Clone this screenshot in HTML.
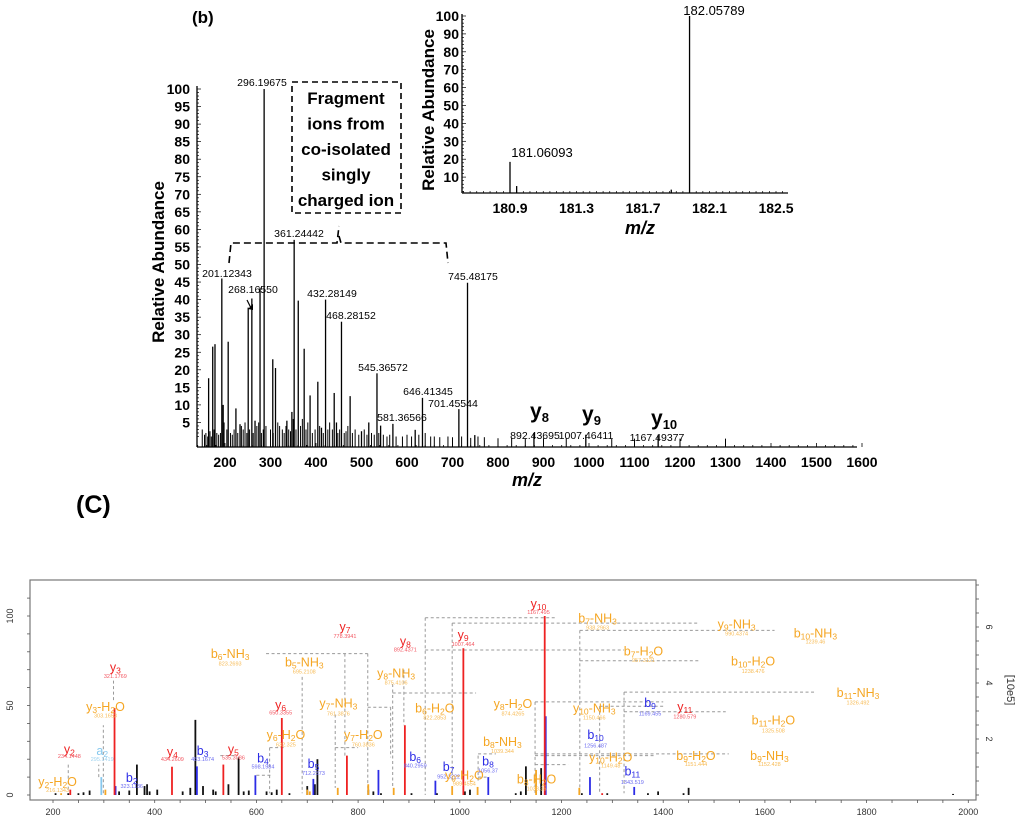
<!DOCTYPE html>
<html><head><meta charset="utf-8">
<style>
html,body{margin:0;padding:0;background:#fff;}
svg{display:block;font-family:"Liberation Sans",Arial,sans-serif;}
</style></head>
<body>
<svg id="fig" width="1024" height="824" viewBox="0 0 1024 824" xmlns="http://www.w3.org/2000/svg">
<g id="top"></g>
<g id="inset"></g>
<g id="bot"></g>
</svg>
<script>
// ---------- Panel (b) data ----------
const mainMz=[164,173,178,193,196,207,224,233,251,259,266,277,286,305,311,336,347,352,361,374,387,404,412,421,440,445,456,475,500,516,534,542,569,618,634,714,733,749,879,993,1152];
const mainAb=[17.6,26.6,27.3,46,10,28,9,4.5,37.7,40.3,5.5,43.4,100,23,20.5,5.5,8,57,39.7,26,12.7,16.6,3.5,40,13.4,5,33.7,12.5,2.5,5,19,4.1,4.6,2.9,12,8.8,44.8,1.4,2,1.5,1.5];
const noiseMz=[150,155,158,162,167,170,176,182,186,190,198,204,212,216,220,228,236,240,244,248,254,262,270,274,280,284,290,300,306,316,320,326,330,334,340,344,350,356,366,370,378,382,392,398,408,416,426,430,436,448,452,462,466,470,480,486,494,500,506,512,522,528,538,548,556,562,576,590,600,610,626,640,652,660,672,690,700,720,740,756,770,800,830,860,900,950,1050,1100,1200,1300];
const noiseAb=[3,1.5,2,1,2.5,1,3,2,1.5,2,5,3,2,1.5,3,2,4,3,5,2,3,2,4,5,2,3,4,3,2,5,4,3,2,4,3,2.5,6,3,4,6,3,5,2,3,4,2,3,5,3,2,3,2,2.5,4,2,3,1.5,2,3,1.5,2,1.5,2,1.5,1,1.5,1,1,1.5,1,1.5,2,1,1,0.8,1,0.8,1,0.6,1,0.8,0.5,0.6,0.5,0.5,0.5,0.4,0.4,0.4,0.4];
const topXTicks=[200,300,400,500,600,700,800,900,1000,1100,1200,1300,1400,1500,1600];
const topYTicks=[5,10,15,20,25,30,35,40,45,50,55,60,65,70,75,80,85,90,95,100];
const topPeakLabels=["296.19675","361.24442","201.12343","268.16550","432.28149","468.28152","545.36572","646.41345","701.45544","581.36566","745.48175"];
// ---------- Inset data ----------
const insetMz=[180.9,180.94,181.87,181.98];
const insetAb=[18.5,5,3,100];
const insetXTicks=[180.9,181.3,181.7,182.1,182.5];
const insetYTicks=[10,20,30,40,50,60,70,80,90,100];
// ---------- Panel (C) data ----------
const blackMz=[205,230,250,260,272,330,350,365,380,385,390,405,455,470,480,495,515,520,545,565,575,585,620,630,640,665,700,715,720,820,830,845,905,955,1010,1020,1110,1120,1130,1160,1240,1290,1370,1390,1440,1450,1970];
const blackAb=[1,1,1,1.5,2.5,2,2.5,17,5,6,2,3,2,4,42,5,3,2,6,21,2,2.5,2,1.5,3,1,5,6,20,3,2,1,1,1,2,3,1,2,16,15,1,1,1,2,1,4,0.6];
const orangeMz=[216,303,700,705,760,820,870,985,1035,1150,1235];
const orangeAb=[1,3,3,2,4,6,4,5,4.5,14,4];
const lightMz=[295];
const lightAb=[10];
const blueMz=[323,483,598,712,840,952,1056,1169,1256,1343];
const blueAb=[5,16,11,9,14,8,10,44,10,4.5];
const redMz=[234,321,434,535,650,778,892,1007,1167,1280];
const redAb=[3,48.6,15.8,17,43,22,39,82,100,1];
const botXTicks=[200,400,600,800,1000,1200,1400,1600,1800,2000];
const botYTicks=[0,50,100];
const botRTicks=[2,4,6];

const NS="http://www.w3.org/2000/svg";
function mk(parent,tag,attrs,text){const e=document.createElementNS(NS,tag);for(const k in attrs)e.setAttribute(k,attrs[k]);if(text!==undefined)e.textContent=text;parent.appendChild(e);return e;}

// ===== Panel (b) =====
const T=document.getElementById('top');
const X1=m=>225+(m-200)*0.455;
const Y1=v=>440-3.51*v;
const BASE1=447;
let t=mk(T,'text',{x:192,y:23,'font-size':17,'font-weight':'bold'},'(b)');

let ax=mk(T,'line',{x1:197,y1:BASE1,x2:857,y2:BASE1,stroke:'#000','stroke-width':1.3});

ax=mk(T,'line',{x1:197,y1:BASE1,x2:197,y2:86,stroke:'#000','stroke-width':1.3});

for(let m=140;m<=1600;m+=20){mk(T,'line',{x1:X1(m),y1:BASE1,x2:X1(m),y2:BASE1-(m%100===0?4:2),stroke:'#000','stroke-width':0.8});}
for(let v=1;v<=100;v++){mk(T,'line',{x1:197,y1:Y1(v),x2:197+(v%5===0?4:2),y2:Y1(v),stroke:'#000','stroke-width':0.7});}
topXTicks.forEach(m=>{const e=mk(T,'text',{x:X1(m),y:467,'font-size':14,'font-weight':'bold','text-anchor':'middle'},String(m));
});
topYTicks.forEach(v=>{const e=mk(T,'text',{x:190,y:Y1(v)+5,'font-size':14,'font-weight':'bold','text-anchor':'end'},String(v));
});
t=mk(T,'text',{x:0,y:0,'font-size':17,'font-weight':'bold','text-anchor':'middle',transform:'translate(164,262) rotate(-90)'},'Relative Abundance');

t=mk(T,'text',{x:527,y:486,'font-size':18,'font-weight':'bold','font-style':'italic','text-anchor':'middle'},'m/z');

noiseMz.forEach((m,i)=>{const e=mk(T,'line',{x1:X1(m),y1:BASE1,x2:X1(m),y2:Y1(noiseAb[i]),stroke:'#000','stroke-width':1});
});
mainMz.forEach((m,i)=>{const e=mk(T,'line',{x1:X1(m),y1:BASE1,x2:X1(m),y2:Y1(mainAb[i]),stroke:'#000','stroke-width':1.3});
});
const tl=[[262,86],[299,237],[227,277],[253,293],[332,297],[351,319],[383,371],[428,395],[453,407],[402,421],[473,280]];
topPeakLabels.forEach((s,i)=>{const e=mk(T,'text',{x:tl[i][0],y:tl[i][1],'font-size':10.5,'text-anchor':'middle'},s);
});
mk(T,'line',{x1:247,y1:300,x2:251,y2:308,stroke:'#000','stroke-width':1.2});
mk(T,'path',{d:'M248,309 L253,310 L253,304 Z',fill:'#000'});
[['y','8',530,418,'892.43695',535,439],['y','9',582,421,'1007.46411',586,439],['y','10',651,425,'1167.49377',657,441]].forEach(a=>{
 const e=mk(T,'text',{x:a[2],y:a[3],'font-size':21,'font-weight':'bold'});
 
 mk(e,'tspan',{},a[0]);mk(e,'tspan',{dy:4,'font-size':13},a[1]);
 const n=mk(T,'text',{x:a[5],y:a[6],'font-size':10.5,'text-anchor':'middle'},a[4]);
 });
let bx=mk(T,'rect',{x:292,y:82,width:109,height:131,fill:'none',stroke:'#000','stroke-width':1.6,'stroke-dasharray':'6,4'});

['Fragment','ions from','co-isolated','singly','charged ion'].forEach((s,i)=>{const e=mk(T,'text',{x:346,y:104+i*25.5,'font-size':17,'font-weight':'bold','text-anchor':'middle'},s);
});
let br=mk(T,'path',{d:'M229,263 L231,243 L337,243 L339,226 M339,236 L341,243 L446,243 L448,263',fill:'none',stroke:'#000','stroke-width':1.6,'stroke-dasharray':'7,4'});


// ===== Inset =====
const I=document.getElementById('inset');
const X3=m=>510+(m-180.9)*166.25;
const Y3=v=>195-1.79*v;
ax=mk(I,'line',{x1:462,y1:193,x2:788,y2:193,stroke:'#000','stroke-width':1.3});

ax=mk(I,'line',{x1:462,y1:193,x2:462,y2:14,stroke:'#000','stroke-width':1.3});

for(let k=0;k<=48;k++){const m=180.62+k*0.04;mk(I,'line',{x1:X3(m),y1:193,x2:X3(m),y2:191,stroke:'#000','stroke-width':0.7});}
for(let v=2;v<=100;v+=2){mk(I,'line',{x1:462,y1:Y3(v),x2:v%10===0?466:464,y2:Y3(v),stroke:'#000','stroke-width':0.7});}
insetXTicks.forEach(m=>{const e=mk(I,'text',{x:X3(m),y:213,'font-size':14,'font-weight':'bold','text-anchor':'middle'},m.toFixed(1));
});
insetYTicks.forEach(v=>{const e=mk(I,'text',{x:459,y:Y3(v)+5,'font-size':14,'font-weight':'bold','text-anchor':'end'},String(v));
});
t=mk(I,'text',{x:0,y:0,'font-size':17,'font-weight':'bold','text-anchor':'middle',transform:'translate(434,110) rotate(-90)'},'Relative Abundance');

t=mk(I,'text',{x:640,y:234,'font-size':18,'font-weight':'bold','font-style':'italic','text-anchor':'middle'},'m/z');

insetMz.forEach((m,i)=>{const e=mk(I,'line',{x1:X3(m),y1:193,x2:X3(m),y2:Y3(insetAb[i]),stroke:'#000','stroke-width':1.3});
});
t=mk(I,'text',{x:542,y:157,'font-size':13,'text-anchor':'middle'},'181.06093');

t=mk(I,'text',{x:714,y:15,'font-size':13,'text-anchor':'middle'},'182.05789');


// ===== Panel (C) =====
const B=document.getElementById('bot');
const X2=m=>53+(m-200)*0.5085;
const Y2=v=>795-1.79*v;
t=mk(B,'text',{x:76,y:513,'font-size':25,'font-weight':'bold'},'(C)');

let fr=mk(B,'rect',{x:30,y:580,width:946,height:220,fill:'none',stroke:'#777','stroke-width':1.2});

for(let m=200;m<=2000;m+=50){mk(B,'line',{x1:X2(m),y1:800,x2:X2(m),y2:803,stroke:'#555','stroke-width':0.8});}
botXTicks.forEach(m=>{const e=mk(B,'text',{x:X2(m),y:815,'font-size':9,fill:'#333','text-anchor':'middle'},String(m));
});
for(let v=0;v<=110;v+=10){mk(B,'line',{x1:27,y1:Y2(v),x2:30,y2:Y2(v),stroke:'#555','stroke-width':0.8});}
botYTicks.forEach(v=>{const e=mk(B,'text',{x:0,y:0,'font-size':9,fill:'#333','text-anchor':'middle',transform:`translate(13,${Y2(v)}) rotate(-90)`},String(v));
});
for(let k=0;k<=15;k++){const y=795-k*14;mk(B,'line',{x1:976,y1:y,x2:979,y2:y,stroke:'#555','stroke-width':0.8});}
botRTicks.forEach(v=>{const e=mk(B,'text',{x:0,y:0,'font-size':9,fill:'#333','text-anchor':'middle',transform:`translate(986,${795-v*28}) rotate(90)`},String(v));
});
t=mk(B,'text',{x:0,y:0,'font-size':11,fill:'#333','text-anchor':'middle',transform:'translate(1007,690) rotate(90)'},'[10e5]');

const conns=[[319,53,319,65],[299,1,299,39],[230,3,230,17],[290,10,290,17],[619,79,819,79],[819,79,819,2],[690,66,690,1],[774,79,774,22],[755,45,755,4],[819,49,864,49],[864,49,864,21],[868,62,868,4],[868,57,1032,57],[890,70,890,39],[932,99,1187,99],[932,99,932,0],[985,96,1471,96],[985,96,985,8],[1236,92,1619,92],[1236,92,1236,1],[932,81,1323,81],[1236,75,1471,75],[1323,57.5,1697,57.5],[1323,57.5,1323,1],[1323,46.5,1523,46.5],[1148,52,1400,52],[1148,52,1148,0],[1275,49.6,1400,49.6],[1275,49.6,1275,1],[1148,23,1529,23],[1148,22,1381,22],[1036,22,1036,8],[1036,23,1071,23],[755,26.5,800,26.5],[626,26.5,626,1],[626,26.5,658,26.5],[529,22,561,22],[600,11,632,11],[1148,17,1213,17],[1036,10,1058,10]];
conns.forEach(c=>{const e=mk(B,'line',{x1:X2(c[0]),y1:Y2(c[1]),x2:X2(c[2]),y2:Y2(c[3]),stroke:'#999','stroke-width':1,'stroke-dasharray':'3,2.5'});
});
function bars(mz,ab,col,name){mz.forEach((m,i)=>{const e=mk(B,'line',{x1:X2(m),y1:795,x2:X2(m),y2:Y2(ab[i]),stroke:col,'stroke-width':1.8});
});}
bars(blackMz,blackAb,'#111','unassigned-peak');
bars(orangeMz,orangeAb,'#f5a623','neutral-loss-peak');
bars(lightMz,lightAb,'#86c8ee','a-ion-peak');
bars(blueMz,blueAb,'#2c2ce6','b-ion-peak');
bars(redMz,redAb,'#ee2222','y-ion-peak');
const LX=zx=>53+(zx-85)*0.6561, LY=zy=>795-(685-zy)*0.3266;
const C={r:['#ee2222','#f25560'],b:['#2c2ce6','#6a6af0'],o:['#f5a623','#f7bb55'],l:['#86c8ee','#9fd3f0']};
const labs=[['y_10','r',825,100,'1167.495',125],['b_7-NH_3','o',915,145,'938.2963',172],['y_9-NH_3','o',1127,163,'990.4374',190],['b_10-NH_3','o',1247,190,'1239.46',215],
['y_7','r',530,170,'778.3941',198],['y_8','r',622,215,'892.4371',240],['y_9','r',710,195,'1007.464',222],['b_7-H_2O','o',985,245,'957.3121',272],
['b_6-NH_3','o',355,253,'823.2693',282],['b_5-NH_3','o',468,280,'695.2108',307],['b_10-H_2O','o',1152,277,'1238.476',305],['y_3','r',180,295,'321.1769',320],
['y_8-NH_3','o',608,313,'875.4106',340],['b_11-NH_3','o',1312,373,'1326.492',402],['y_8-H_2O','o',786,407,'874.4265',436],['y_10-NH_3','o',910,420,'1150.466',448],
['b_9','b',995,403,'1169.455',435],['y_11','r',1048,415,'1280.579',445],['y_3-H_2O','o',165,415,'303.1653',442],['y_7-NH_3','o',520,405,'761.3876',435],
['y_6','r',432,410,'650.3355',433],['b_6-H_2O','o',667,420,'822.2853',448],['b_11-H_2O','o',1183,457,'1325.508',488],['b_10','b',912,502,'1256.487',533],
['y_6-H_2O','o',440,502,'632.325',530],['y_7-H_2O','o',558,502,'760.3836',530],['b_8-NH_3','o',770,523,'1039.344',550],['y_2','r',110,545,'234.1448',565],
['a_2','l',160,550,'295.1419',575],['y_4','r',267,553,'434.2609',575],['b_3','b',313,550,'483.1674',575],['y_5','r',360,545,'535.3086',570],
['b_9-H_2O','o',1065,565,'1151.444',590],['b_9-NH_3','o',1177,565,'1152.428',590],['b_4','b',405,573,'598.1984',598],['b_5','b',482,590,'712.2373',618],
['b_6','b',637,568,'840.2959',595],['b_7','b',688,600,'952.3222',628],['y_9-H_2O','o',712,625,'989.4554',650],['b_8','b',748,583,'1056.37',610],
['y_10-H_2O','o',935,570,'1149.48',595],['b_11','b',968,613,'1343.519',645],['b_8-H_2O','o',822,637,'1038.36',665],['b_2','b',205,633,'323.1186',658],['y_2-H_2O','o',92,645,'216.1343',670]];
labs.forEach(a=>{
 const col=C[a[1]];
 const e=mk(B,'text',{x:LX(a[2]),y:LY(a[3])+4,'font-size':12.5,fill:col[0],'text-anchor':'middle'});
 
 const parts=a[0].split(/(_\d+)/);let shifted=false;
 parts.forEach(p=>{if(!p)return;
  if(p[0]==='_'){mk(e,'tspan',{dy:2,'font-size':8.5},p.slice(1));shifted=true;}
  else{mk(e,'tspan',shifted?{dy:-2}:{},p);shifted=false;}});
 const n=mk(B,'text',{x:LX(a[2]),y:LY(a[5])+2,'font-size':5.5,fill:col[1],'text-anchor':'middle'},a[4]);
 
});
</script>
</body></html>
